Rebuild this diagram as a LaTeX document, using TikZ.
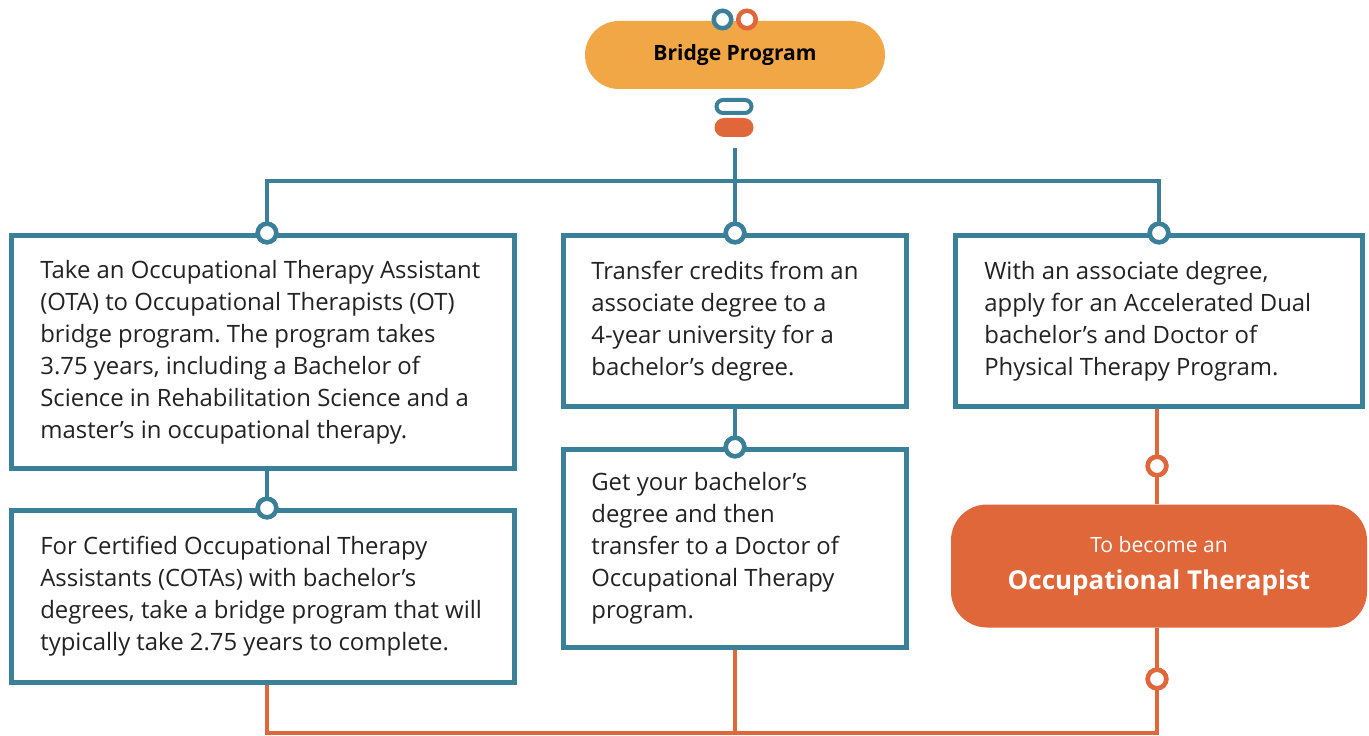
\documentclass[tikz,border=0pt]{standalone}
\usepackage{fontspec}
\setmainfont{Open Sans}
\usetikzlibrary{positioning}
\frenchspacing

\definecolor{otTeal}{HTML}{3A8099}
\definecolor{otOrange}{HTML}{E0673A}
\definecolor{otGold}{HTML}{F2A746}
\definecolor{otInk}{HTML}{222222}
\newcommand{\pxu}{0.02cm}

\tikzset{
  card/.style={draw=otTeal, line width=5*\pxu, fill=white, inner sep=0pt},
  cardtext/.style={inner sep=0pt, align=left, text=otInk,
    font=\fontsize{13.6}{18.2}\selectfont},
  link/.style={line width=4.5*\pxu, draw=otTeal},
  olink/.style={line width=4.5*\pxu, draw=otOrange},
  ring/.style={circle, draw=otTeal, fill=white, line width=4.5*\pxu,
    minimum size=18.5*\pxu, inner sep=0pt},
  oring/.style={ring, draw=otOrange},
}

\begin{document}
\begin{tikzpicture}[x=0.02cm, y=-0.02cm]
    \useasboundingbox (0,0) rectangle (1369,736);

    % top pill
    \node[fill=otGold, rounded corners=34*\pxu, minimum width=300*\pxu,
      minimum height=68*\pxu, text=black,
      font=\bfseries\fontsize{12}{14}\selectfont] (bridge) at (735,55) {Bridge Program};
    \node[ring, minimum size=17.5*\pxu] (tA) at (722.5,19.5) {};
    \node[oring, minimum size=17.5*\pxu] (tB) at (747,19.5) {};

    % split marks
    \node[draw=otTeal, line width=4*\pxu, rounded corners=6.5*\pxu, minimum width=35*\pxu,
      minimum height=13*\pxu, inner sep=0pt] (pillA) at (734,106.5) {};
    \node[fill=otOrange, rounded corners=9.5*\pxu, minimum width=39*\pxu,
      minimum height=19*\pxu, inner sep=0pt] (pillB) at (734,127.5) {};

    % boxes
    \node[card, minimum width=503*\pxu, minimum height=233*\pxu] (ota) at (263,352) {};
    \node[cardtext, right=0.62cm of ota.west] (otaText) {Take an Occupational Therapy Assistant\\
      (OTA) to Occupational Therapists (OT)\\
      bridge program. The program takes\\
      3.75 years, including a Bachelor of\\
      Science in Rehabilitation Science and a\\
      master’s in occupational therapy.};

    \node[card, minimum width=343*\pxu, minimum height=171*\pxu] (transfer) at (735,321) {};
    \node[cardtext, right=0.6cm of transfer.west] (transferText) {Transfer credits from an\\
      associate degree to a\\
      4-year university for a\\
      bachelor’s degree.};

    \node[card, minimum width=407*\pxu, minimum height=171*\pxu] (dual) at (1159,321) {};
    \node[cardtext, right=0.62cm of dual.west] (dualText) {With an associate degree,\\
      apply for an Accelerated Dual\\
      bachelor’s and Doctor of\\
      Physical Therapy Program.};

    \node[card, minimum width=503*\pxu, minimum height=172*\pxu] (cota) at (263,596.5) {};
    \node[cardtext, right=0.62cm of cota.west] (cotaText) {For Certified Occupational Therapy\\
      Assistants (COTAs) with bachelor’s\\
      degrees, take a bridge program that will\\
      typically take 2.75 years to complete.};

    \node[card, minimum width=343*\pxu, minimum height=198*\pxu] (otd) at (735,548.5) {};
    \node[cardtext, right=0.6cm of otd.west] (otdText) {Get your bachelor’s\\
      degree and then\\
      transfer to a Doctor of\\
      Occupational Therapy\\
      program.};

    \node[fill=otOrange, rounded corners=36*\pxu, minimum width=416*\pxu,
      minimum height=123*\pxu, text=white, align=center] (goal) at (1159,566)
      {{\fontsize{12}{14}\selectfont To become an}\\[9pt]
       {\bfseries\fontsize{14.8}{18}\selectfont Occupational Therapist}};

    % teal branches
    \coordinate (split) at (735,148);
    \coordinate (bus) at (735,181);
    \node[ring] (j1) at (267,233) {};
    \node[ring] (j2) at (735,233) {};
    \node[ring] (j3) at (1159,233) {};
    \node[ring] (j4) at (267,508) {};
    \node[ring] (j5) at (735,447) {};
    \draw[link] (split) -- (bus) -| (j1.center);
    \draw[link] (bus) -| (j3.center);
    \draw[link] (bus) -- (j2.center);
    \draw[link] (ota.south -| j4) -- (j4.center);
    \draw[link] (transfer.south) -- (j5.center);

    % orange paths
    \coordinate (base) at (1157,733);
    \node[oring] (o1) at (1157,466) {};
    \node[oring] (o2) at (1157,679) {};
    \draw[olink] (dual.south -| o1) -- (o1 |- goal.north);
    \draw[olink] (o1 |- goal.south) -- (base) -| (cota.south -| j4);
    \draw[olink] (otd.south) -- (otd.south |- base);

    % rings on top
    \foreach \j in {j1,j2,j3,j4,j5}
      \node[ring] at (\j) {};
    \foreach \o in {o1,o2}
      \node[oring] at (\o) {};
\end{tikzpicture}
\end{document}
